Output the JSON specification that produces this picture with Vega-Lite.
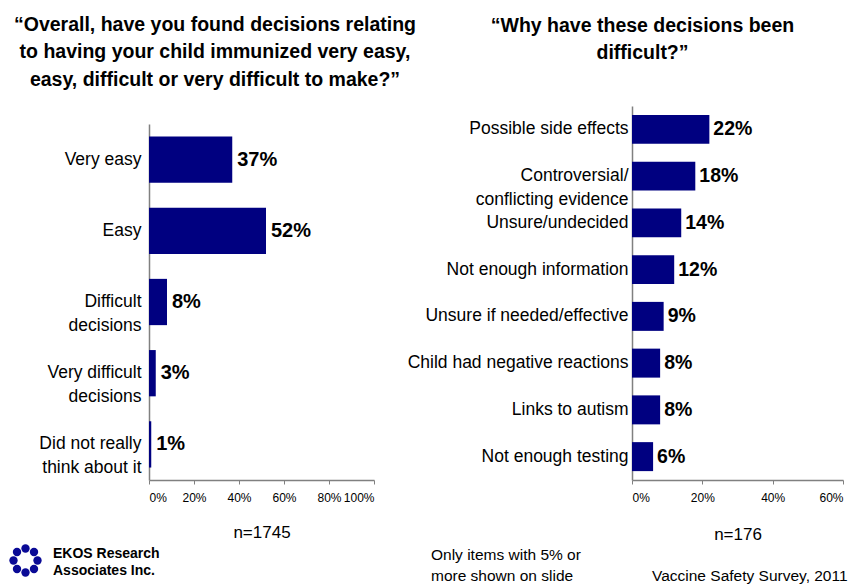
{
  "$schema": "https://vega.github.io/schema/vega-lite/v6.json",
  "padding": {"left": 0, "right": 0, "top": 14, "bottom": 0},
  "config": {
    "view": {"stroke": null},
    "font": "Liberation Sans",
    "title": {"fontSize": 19.5, "fontWeight": "bold", "lineHeight": 27.5, "color": "#000000", "anchor": "middle", "frame": "group"},
    "axis": {"grid": false, "domainColor": "#808080", "tickColor": "#808080", "labelColor": "#000000", "titleColor": "#000000"}
  },
  "spacing": 0,
  "vconcat": [
    {
      "spacing": -15,
      "hconcat": [
        {
          "width": 225,
          "height": 356,
          "title": {
            "text": ["“Overall, have you found decisions relating", "to having your child immunized very easy,", "easy, difficult or very difficult to make?”"],
            "offset": 34,
            "dx": -46.5
          },
          "data": {"values": [
            {"cat": "Very easy", "pct": 0.37},
            {"cat": "Easy", "pct": 0.52},
            {"cat": "Difficult|decisions", "pct": 0.08},
            {"cat": "Very difficult|decisions", "pct": 0.03},
            {"cat": "Did not really|think about it", "pct": 0.01}
          ]},
          "encoding": {
            "y": {
              "field": "cat", "type": "nominal", "sort": null,
              "scale": {"paddingInner": 0.35, "paddingOuter": 0.175},
              "axis": {"title": null, "ticks": false, "labelPadding": 8, "labelFontSize": 17.5, "labelLineHeight": 24, "labelExpr": "split(datum.label, '|')", "minExtent": 149, "domainWidth": 1.5, "labelLimit": 300}
            },
            "x": {
              "field": "pct", "type": "quantitative",
              "scale": {"domain": [0, 1]},
              "axis": {"title": "n=1745", "format": ".0%", "values": [0, 0.2, 0.4, 0.6, 0.8, 1], "tickSize": 4, "labelFontSize": 12, "labelPadding": 8, "titleFontSize": 17, "titleFontWeight": "normal", "titlePadding": 21, "domainWidth": 1.5}
            }
          },
          "layer": [
            {"mark": {"type": "bar", "color": "#000080"}},
            {"mark": {"type": "text", "align": "left", "baseline": "middle", "dx": 5, "fontSize": 20, "fontWeight": "bold", "color": "#000000"},
             "encoding": {"text": {"field": "pct", "type": "quantitative", "format": ".0%"}}}
          ]
        },
        {
          "width": 211,
          "height": 356,
          "title": {
            "text": ["“Why have these decisions been", "difficult?”"],
            "offset": 51,
            "dx": -95
          },
          "data": {"values": [
            {"cat": "Possible side effects", "pct": 0.22},
            {"cat": "Controversial/|conflicting evidence", "pct": 0.18},
            {"cat": "Unsure/undecided", "pct": 0.14},
            {"cat": "Not enough information", "pct": 0.12},
            {"cat": "Unsure if needed/effective", "pct": 0.09},
            {"cat": "Child had negative reactions", "pct": 0.08},
            {"cat": "Links to autism", "pct": 0.08},
            {"cat": "Not enough testing", "pct": 0.06}
          ]},
          "encoding": {
            "y": {
              "field": "cat", "type": "nominal", "sort": null,
              "scale": {"paddingInner": 0.38, "paddingOuter": 0.19, "range": [-18, 356]},
              "axis": {"title": null, "ticks": false, "labelPadding": 4, "labelFontSize": 17.5, "labelLineHeight": 24, "labelExpr": "split(datum.label, '|')", "minExtent": 230, "domainWidth": 1.5, "labelLimit": 300}
            },
            "x": {
              "field": "pct", "type": "quantitative",
              "scale": {"domain": [0, 0.6]},
              "axis": {"title": "n=176", "format": ".0%", "values": [0, 0.2, 0.4, 0.6], "tickSize": 4, "labelFontSize": 12, "labelPadding": 8, "titleFontSize": 17, "titleFontWeight": "normal", "titlePadding": 23, "domainWidth": 1.5}
            }
          },
          "layer": [
            {"mark": {"type": "bar", "color": "#000080"}},
            {"mark": {"type": "text", "align": "left", "baseline": "middle", "dx": 4, "fontSize": 19.5, "fontWeight": "bold", "color": "#000000"},
             "encoding": {"text": {"field": "pct", "type": "quantitative", "format": ".0%"}}}
          ]
        }
      ]
    },
    {
      "width": 700,
      "height": 40,
      "layer": [
        {
          "data": {"values": [
            {"lx": 37.5, "ly": 18.5}, {"lx": 34, "ly": 27}, {"lx": 25.5, "ly": 30.5}, {"lx": 17, "ly": 27},
            {"lx": 13.5, "ly": 18.5}, {"lx": 17, "ly": 10}, {"lx": 25.5, "ly": 6.5}, {"lx": 34, "ly": 10}
          ]},
          "mark": {"type": "point", "shape": "circle", "filled": true, "color": "#0a0a96", "size": 70, "opacity": 1},
          "encoding": {
            "x": {"field": "lx", "type": "quantitative", "scale": {"domain": [149, 849]}, "axis": null},
            "y": {"field": "ly", "type": "quantitative", "scale": {"domain": [0, 40], "reverse": true}, "axis": null}
          }
        },
        {
          "data": {"values": [
            {"tx": 53, "ty": 12, "t": "EKOS Research"},
            {"tx": 53, "ty": 29, "t": "Associates Inc."}
          ]},
          "mark": {"type": "text", "align": "left", "baseline": "middle", "fontSize": 14, "fontWeight": "bold", "color": "#000000"},
          "encoding": {
            "x": {"field": "tx", "type": "quantitative", "scale": {"domain": [149, 849]}, "axis": null},
            "y": {"field": "ty", "type": "quantitative", "scale": {"domain": [0, 40], "reverse": true}, "axis": null},
            "text": {"field": "t"}
          }
        },
        {
          "data": {"values": [
            {"tx": 431, "ty": 13, "t": "Only items with 5% or"},
            {"tx": 431, "ty": 34, "t": "more shown on slide"},
            {"tx": 652, "ty": 34, "t": "Vaccine Safety Survey, 2011"}
          ]},
          "mark": {"type": "text", "align": "left", "baseline": "middle", "fontSize": 15.5, "color": "#000000"},
          "encoding": {
            "x": {"field": "tx", "type": "quantitative", "scale": {"domain": [149, 849]}, "axis": null},
            "y": {"field": "ty", "type": "quantitative", "scale": {"domain": [0, 40], "reverse": true}, "axis": null},
            "text": {"field": "t"}
          }
        }
      ]
    }
  ]
}
